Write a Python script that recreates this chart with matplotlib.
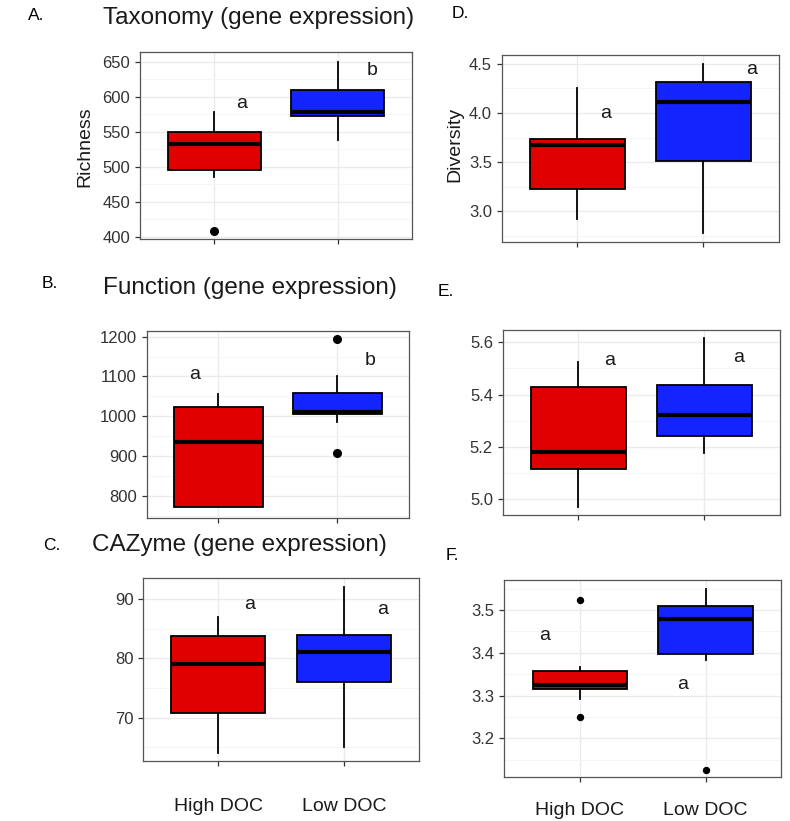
import matplotlib.pyplot as plt
import numpy as np

plt.rcParams['font.family'] = ['Liberation Sans', 'DejaVu Sans']

groups = ['High DOC', 'Low DOC']
red = '#E00000'
blue = '#1424FF'

# summaries: lower whisker, Q1, median, Q3, upper whisker
tax_high = [486, 496, 532, 550, 579]
tax_low = [538, 572, 578, 610, 650]
tax_out = [[408], []]

fun_high = [771, 771, 936, 1022, 1055]
fun_low = [986, 1006, 1010, 1059, 1101]
fun_out = [[], [1194, 908]]

caz_high = [64.0, 70.8, 79.0, 83.8, 87.0]
caz_low = [65.0, 76.0, 81.0, 84.0, 92.0]
caz_out = [[], []]

div_high = [2.92, 3.23, 3.68, 3.735, 4.25]
div_low = [2.78, 3.515, 4.11, 4.32, 4.50]
div_out = [[], []]

e_high = [4.97, 5.115, 5.18, 5.428, 5.524]
e_low = [5.178, 5.242, 5.322, 5.436, 5.618]
e_out = [[], []]

f_high = [3.292, 3.315, 3.325, 3.358, 3.367]
f_low = [3.383, 3.396, 3.478, 3.51, 3.548]
f_out = [[3.523, 3.251], [3.127]]

W, H = 790, 821


def rect(left, top, right, bottom):
    return [left / W, 1 - bottom / H, (right - left) / W, (bottom - top) / H]


def ftext(x, y, s, **kw):
    fig.text(x / W, 1 - y / H, s, **kw)


def panel(r, high, low, outs, ylim, major, minor, letters, ms=5.5, xlabels=False, pad=4):
    ax = fig.add_axes(r)
    stats = []
    for s, o in zip([high, low], outs):
        stats.append(dict(whislo=s[0], q1=s[1], med=s[2], q3=s[3], whishi=s[4], fliers=o))
    bp = ax.bxp(stats, positions=[1, 2], widths=0.75, patch_artist=True, showcaps=False,
                boxprops=dict(edgecolor='black', linewidth=1.3),
                medianprops=dict(color='black', linewidth=3.0, solid_capstyle='butt'),
                whiskerprops=dict(color='black', linewidth=1.3),
                flierprops=dict(marker='o', markerfacecolor='black', markeredgecolor='black',
                                markersize=ms))
    for patch, c in zip(bp['boxes'], [red, blue]):
        patch.set_facecolor(c)
    for (x, y, t) in letters:
        ax.text(x, y, t, fontsize=14, ha='center', va='center', color='#1a1a1a')
    ax.set_xlim(0.4, 2.6)
    ax.set_ylim(*ylim)
    ax.set_xticks([1, 2])
    ax.set_yticks(major)
    ax.set_yticks(minor, minor=True)
    ax.set_axisbelow(True)
    ax.grid(which='major', color='#EBEBEB', linewidth=1.0)
    ax.grid(which='minor', axis='y', color='#F4F4F4', linewidth=0.6)
    for sp in ax.spines.values():
        sp.set_color('#555555')
        sp.set_linewidth(0.9)
    ax.tick_params(which='major', length=3.5, width=0.9, color='#333333',
                   labelsize=12, labelcolor='#333333')
    ax.tick_params(which='minor', length=0)
    if xlabels:
        ax.set_xticklabels(groups, fontsize=14, color='#1a1a1a')
        ax.tick_params(axis='x', pad=pad)
    else:
        ax.set_xticklabels([])
    return ax


fig = plt.figure(figsize=(7.9, 8.21), dpi=100)

# A. Taxonomy
panel(rect(140, 52, 412, 239), tax_high, tax_low, tax_out, (397, 664),
      [400, 450, 500, 550, 600, 650], [425, 475, 525, 575, 625],
      [(1.225, 590, 'a'), (2.28, 637, 'b')])
# B. Function
panel(rect(146.7, 330.7, 409, 517.7), fun_high, fun_low, fun_out, (745, 1215),
      [800, 900, 1000, 1100, 1200], [750, 850, 950, 1050, 1150],
      [(0.8, 1104, 'a'), (2.27, 1140, 'b')])
# C. CAZyme
panel(rect(143.3, 578.3, 419, 761), caz_high, caz_low, caz_out, (62.7, 93.5),
      [70, 80, 90], [65, 75, 85],
      [(1.246, 89, 'a'), (2.31, 88.3, 'a')], xlabels=True, pad=23)
# D. Diversity
panel(rect(501.7, 55, 779, 242), div_high, div_low, div_out, (2.69, 4.59),
      [3.0, 3.5, 4.0, 4.5], [2.75, 3.25, 3.75, 4.25],
      [(1.225, 4.0, 'a'), (2.38, 4.44, 'a')])
# E.
panel(rect(502.7, 330, 780, 515), e_high, e_low, e_out, (4.94, 5.647),
      [5.0, 5.2, 5.4, 5.6], [5.1, 5.3, 5.5],
      [(1.25, 5.53, 'a'), (2.27, 5.54, 'a')])
# F.
panel(rect(504.3, 580, 781, 777.3), f_high, f_low, f_out, (3.109, 3.570),
      [3.2, 3.3, 3.4, 3.5], [3.15, 3.25, 3.35, 3.45, 3.55],
      [(0.72, 3.44, 'a'), (1.82, 3.325, 'a')], ms=4.3, xlabels=True, pad=14)

# panel letters and titles
ftext(28, 16, 'A.', fontsize=12.5, va='center')
ftext(103, 18, 'Taxonomy (gene expression)', fontsize=17.5, va='center', color='#1a1a1a')
ftext(42, 283, 'B.', fontsize=12.5, va='center')
ftext(103, 288, 'Function (gene expression)', fontsize=17.5, va='center', color='#1a1a1a')
ftext(43, 545, 'C.', fontsize=12.5, va='center')
ftext(92, 545, 'CAZyme (gene expression)', fontsize=17.5, va='center', color='#1a1a1a')
ftext(452, 14, 'D.', fontsize=12.5, va='center')
ftext(438, 291, 'E.', fontsize=12.5, va='center')
ftext(446, 556, 'F.', fontsize=12.5, va='center')

ftext(85, 147, 'Richness', fontsize=14, rotation=90, ha='center', va='center', color='#1a1a1a')
ftext(455, 144, 'Diversity', fontsize=14, rotation=90, ha='center', va='center', color='#1a1a1a')

fig.savefig('out.png', dpi=100)
